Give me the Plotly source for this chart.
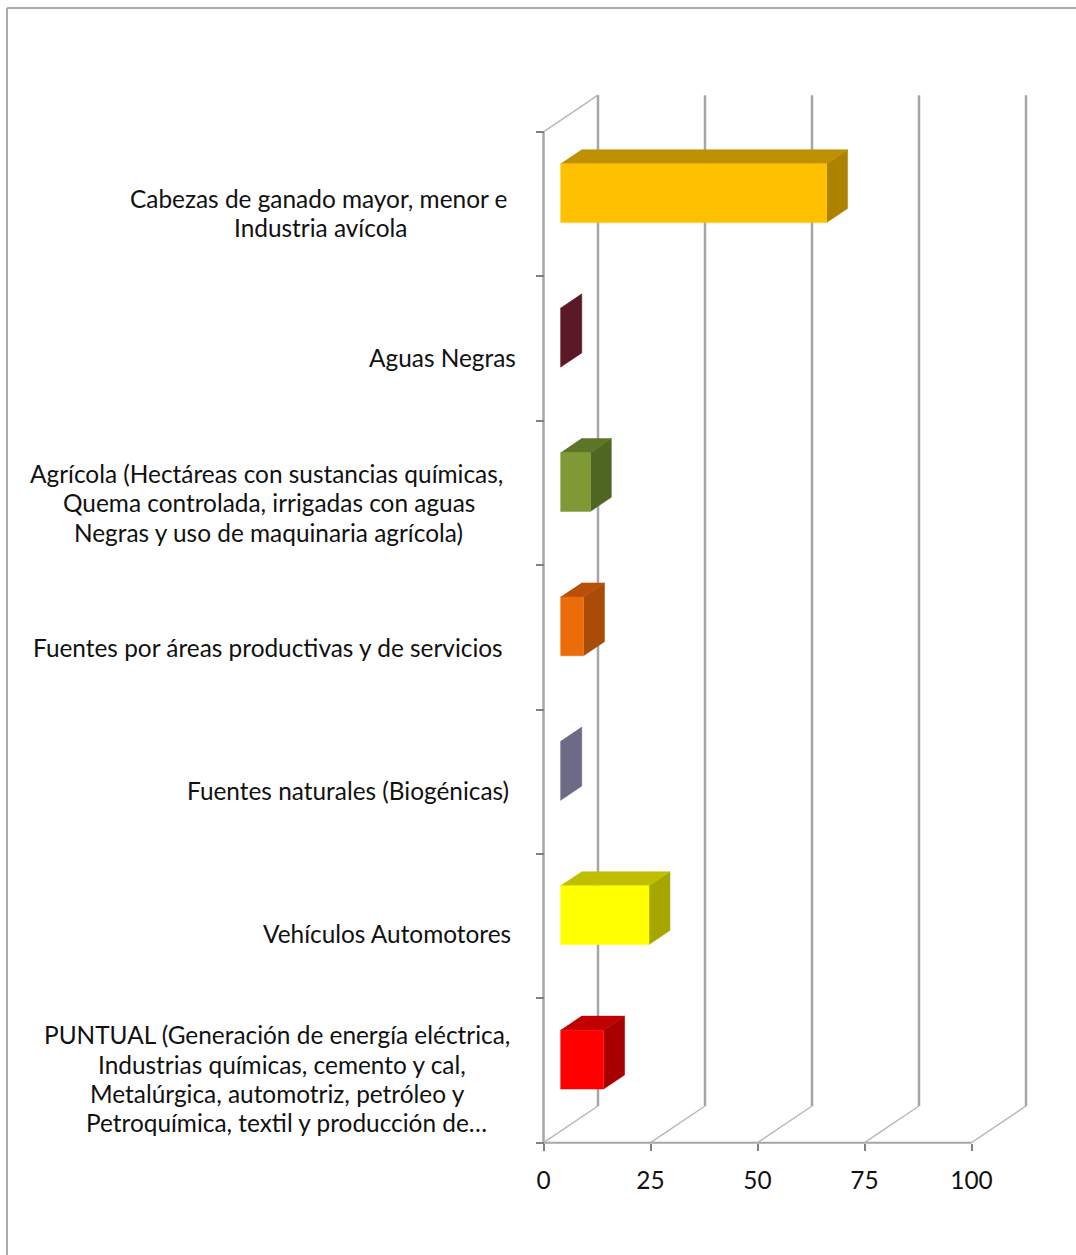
import plotly.graph_objects as go

# bottom to top, as on the chart
categories = ['PUNTUAL', 'Vehículos Automotores', 'Fuentes naturales', 'Fuentes por áreas',
              'Agrícola', 'Aguas Negras', 'Cabezas de ganado']
values = [10.1, 20.7, 0.1, 5.4, 7.0, 0.1, 62.2]
front_colors = ['#FF0000', '#FFFF00', '#77758F', '#ED6C0A', '#7F9A35', '#7B1C2B', '#FFC000']
top_colors = ['#C00000', '#BFBF00', '#6F6D8A', '#B85008', '#5D7526', '#5F1722', '#BF9000']
side_colors = ['#A80000', '#A6A600', '#6C6A86', '#A84C08', '#4F6622', '#5A1A25', '#AD8200']
x_ticks = [0, 25, 50, 75, 100]

label_lines = ['Cabezas de ganado mayor, menor e', 'Industria avícola', 'Aguas Negras',
               'Agrícola (Hectáreas con sustancias químicas,', 'Quema controlada, irrigadas con aguas',
               'Negras y uso de maquinaria agrícola)', 'Fuentes por áreas productivas y de servicios',
               'Fuentes naturales (Biogénicas)', 'Vehículos Automotores',
               'PUNTUAL (Generación de energía eléctrica,', 'Industrias químicas, cemento y cal,',
               'Metalúrgica, automotriz, petróleo y', 'Petroquímica, textil y producción de…']
label_cx = [318.5, 320.5, 442.5, 266, 269, 268, 268, 348, 387, 276.5, 282, 277, 286]
label_cy = [198, 227, 357, 473, 502, 532, 647, 790, 933, 1034, 1064, 1093, 1122]

W, H = 1076, 1255
X0_PX, Y0_PX = 543.5, 1142.7
PX_PER_X, PX_PER_BAND = 4.28, 144.4
DEPTH_X = 54.5 / PX_PER_X
DEPTH_Y = 36.7 / PX_PER_BAND
BAR_D0, BAR_D1 = 0.31, 0.695
BAR_LO, BAR_HI = 0.293, 0.70
GRID = '#A6A6A6'
FONT = 'Lato'
FONT_SIZE = 24.4


def proj(x, y, d):
    # oblique projection: depth pushes a point up and to the right
    return x + d * DEPTH_X, y + d * DEPTH_Y


def line3d(fig, pts, width=2.5, color=GRID):
    xy = [proj(*p) for p in pts]
    fig.add_trace(go.Scatter(x=[p[0] for p in xy], y=[p[1] for p in xy], mode='lines',
                             line=dict(color=color, width=width), hoverinfo='skip'))


def face(fig, pts, color):
    xy = [proj(*p) for p in pts]
    fig.add_trace(go.Scatter(x=[p[0] for p in xy], y=[p[1] for p in xy], mode='lines', fill='toself',
                             fillcolor=color, line=dict(color=color, width=0.5), hoverinfo='skip'))


fig = go.Figure()
top = len(categories)

# walls and floor
line3d(fig, [(0, 0, 0), (0, top, 0)])
line3d(fig, [(0, 0, 0), (x_ticks[-1], 0, 0)], width=2)
line3d(fig, [(0, top, 0), (0, top, 1)], width=1.5, color='#B8B8B8')
for t in x_ticks:
    line3d(fig, [(t, 0, 0), (t, 0, 1)], width=1.5, color='#B8B8B8')
    line3d(fig, [(t, 0, 1), (t, top, 1)])

for i, v in enumerate(values):
    lo, hi = i + BAR_LO, i + BAR_HI
    face(fig, [(v, lo, BAR_D0), (v, lo, BAR_D1), (v, hi, BAR_D1), (v, hi, BAR_D0)], side_colors[i])
    face(fig, [(0, hi, BAR_D0), (v, hi, BAR_D0), (v, hi, BAR_D1), (0, hi, BAR_D1)], top_colors[i])
    face(fig, [(0, lo, BAR_D0), (v, lo, BAR_D0), (v, hi, BAR_D0), (0, hi, BAR_D0)], front_colors[i])

for text, cx, cy in zip(label_lines, label_cx, label_cy):
    fig.add_annotation(text=text, xref='paper', yref='paper', x=cx / W, y=1 - cy / H, showarrow=False,
                       xanchor='center', yanchor='middle', font=dict(family=FONT, size=FONT_SIZE, color='#111111'))

fig.add_shape(type='line', xref='paper', yref='paper', x0=7 / W, x1=7 / W, y0=0, y1=1 - 8 / H,
              line=dict(color='#ABABAB', width=2))
fig.add_shape(type='line', xref='paper', yref='paper', x0=7 / W, x1=1, y0=1 - 8 / H, y1=1 - 8 / H,
              line=dict(color='#ABABAB', width=2))

fig.update_layout(
    width=W, height=H, margin=dict(l=0, r=0, t=0, b=0), showlegend=False,
    paper_bgcolor='white', plot_bgcolor='white',
    xaxis=dict(range=[-X0_PX / PX_PER_X, (W - X0_PX) / PX_PER_X], domain=[0, 1], anchor='free',
               position=(H - Y0_PX) / H, tickvals=x_ticks, ticks='outside', ticklen=7, tickwidth=1.5,
               tickcolor='#808080', showgrid=False, zeroline=False, showline=False,
               ticklabelstandoff=9, tickfont=dict(family=FONT, size=FONT_SIZE, color='#111111')),
    yaxis=dict(range=[-(H - Y0_PX) / PX_PER_BAND, Y0_PX / PX_PER_BAND], domain=[0, 1], anchor='free',
               position=X0_PX / W, tickvals=list(range(top + 1)), ticks='outside', ticklen=8, tickwidth=1.5,
               tickcolor='#808080', showgrid=False, zeroline=False, showline=False, showticklabels=False),
)

fig.write_html('out.html', config={'displayModeBar': False},
               post_script="document.body.style.margin='0';document.body.style.overflow='hidden';")
